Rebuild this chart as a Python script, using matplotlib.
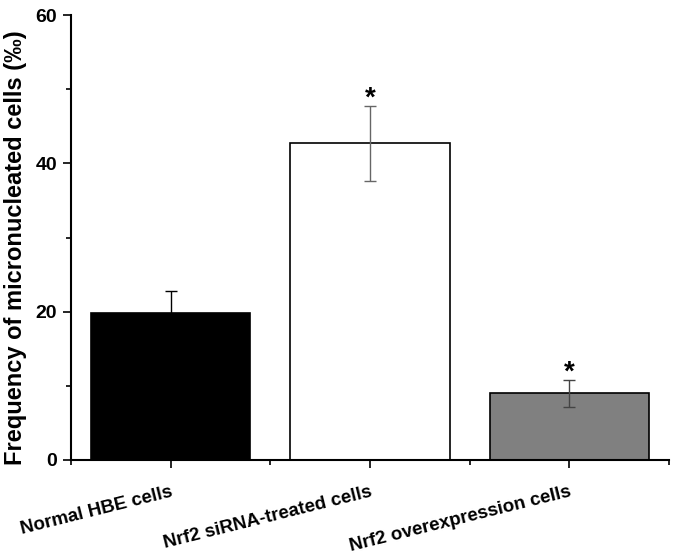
import matplotlib
matplotlib.use("Agg")
import matplotlib.pyplot as plt
from matplotlib.ticker import MultipleLocator, FixedLocator

categories = ["Normal HBE cells", "Nrf2 siRNA-treated cells", "Nrf2 overexpression cells"]
values = [19.8, 42.7, 9.0]
errors = [3.0, 5.05, 1.85]
colors = ["#000000", "#ffffff", "#808080"]
err_colors = ["#000000", "#666666", "#444444"]
stars = ["", "*", "*"]
ylabel = "Frequency of micronucleated cells (‰)"

plt.rcParams['font.family'] = ['Liberation Sans', 'DejaVu Sans']
plt.rcParams['font.weight'] = 'bold'

fig = plt.figure(figsize=(6.73, 5.57), dpi=100)
ax = fig.add_axes([71/673, (557-460)/557, (669-71)/673, (460-15)/557])

x = [1, 2, 3]
ax.bar(x, values, width=0.8, color=colors, edgecolor="black", linewidth=1.2, zorder=2)
for xi, v, e, c, s in zip(x, values, errors, err_colors, stars):
    ax.errorbar(xi, v, yerr=e, fmt="none", ecolor=c, elinewidth=1.0, capsize=4, capthick=1.0, zorder=3)
    if s:
        ax.text(xi, v + e - 0.8, s, ha="center", va="bottom", fontsize=20, fontweight="bold")

ax.set_xlim(0.5, 3.5)
ax.set_ylim(0, 60)
ax.yaxis.set_major_locator(MultipleLocator(20))
ax.yaxis.set_minor_locator(MultipleLocator(10))
ax.set_xticks(x)
ax.xaxis.set_minor_locator(FixedLocator([0.5, 1.5, 2.5, 3.5]))
ax.set_xticklabels(categories, rotation=14, ha="right", rotation_mode="anchor",
                   fontsize=13.5, fontweight="bold")
ax.set_yticks([0, 20, 40, 60])
ax.set_yticklabels(["0", "20", "40", "60"], fontsize=14, fontweight="bold")

ax.tick_params(axis="both", which="major", direction="out", length=6, width=1.2)
ax.tick_params(axis="both", which="minor", direction="out", length=3.5, width=1.2)
ax.tick_params(axis="x", which="major", pad=11)
ax.tick_params(axis="y", which="major", pad=4)
ax.spines["top"].set_visible(False)
ax.spines["right"].set_visible(False)
ax.spines["left"].set_linewidth(1.5)
ax.spines["bottom"].set_linewidth(1.5)

ax.set_ylabel(ylabel, fontsize=17, fontweight="bold")
ax.yaxis.set_label_coords(-0.073, 0.476)

fig.savefig("out.png", dpi=100)
